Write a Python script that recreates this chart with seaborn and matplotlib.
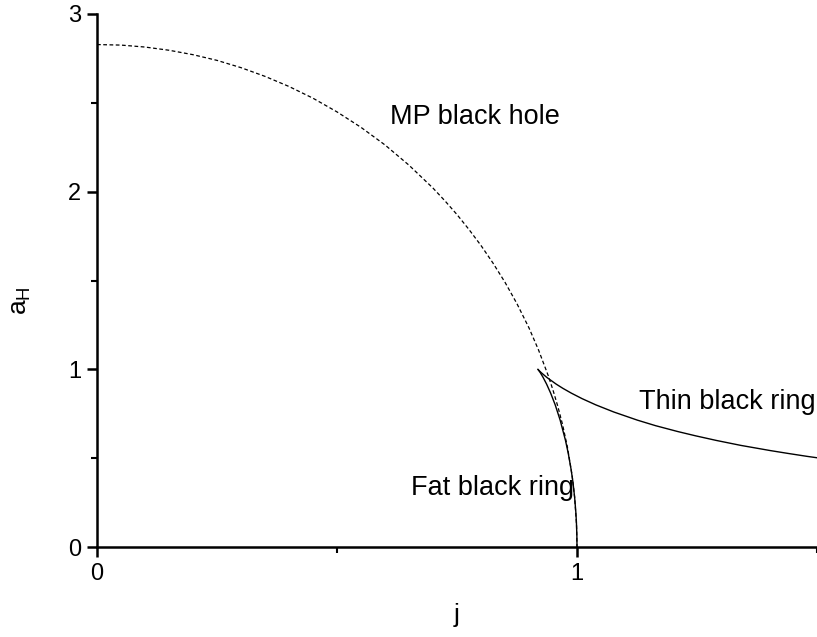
import matplotlib
matplotlib.use("Agg")
import matplotlib.pyplot as plt
import seaborn as sns
import pandas as pd
from matplotlib.ticker import MultipleLocator

# MP black hole (dashed)
mp_j = [0.0, 0.05, 0.1, 0.15, 0.2, 0.25, 0.3, 0.35, 0.4, 0.45, 0.5, 0.55, 0.6, 0.65, 0.7,
        0.725, 0.75, 0.775, 0.8, 0.825, 0.85, 0.875, 0.9, 0.92, 0.94, 0.95, 0.96, 0.97,
        0.98, 0.99, 0.995, 0.999, 1.0]
mp_a = [2.828, 2.825, 2.814, 2.796, 2.771, 2.739, 2.698, 2.649, 2.592, 2.526, 2.449, 2.362,
        2.263, 2.149, 2.020, 1.948, 1.871, 1.787, 1.697, 1.598, 1.490, 1.369, 1.233, 1.108,
        0.965, 0.883, 0.792, 0.688, 0.563, 0.399, 0.282, 0.127, 0.0]

# thin black ring
thin_j = [0.9186, 0.9202, 0.926, 0.9374, 0.9568, 0.9706, 0.9882, 1.0106, 1.0392, 1.0765,
          1.1258, 1.1635, 1.2097, 1.2467, 1.2899, 1.3411, 1.403, 1.4389, 1.479, 1.5241]
thin_a = [1.0, 0.995, 0.980, 0.954, 0.9165, 0.893, 0.866, 0.835, 0.80, 0.760,
          0.714, 0.683, 0.650, 0.626, 0.60, 0.572, 0.5426, 0.527, 0.5103, 0.4931]

# fat black ring
fat_j = [0.9186, 0.9200, 0.9238, 0.9295, 0.9367, 0.9451, 0.9546, 0.9649, 0.976, 0.9818,
         0.98775, 0.9914, 0.99505, 0.9975, 0.99875, 0.99975, 1.0]
fat_a = [1.0, 0.995, 0.980, 0.954, 0.9165, 0.866, 0.80, 0.714, 0.60, 0.527,
         0.4359, 0.3676, 0.28, 0.199, 0.1411, 0.0632, 0.0]

sns.set_style("ticks")
plt.rcParams['font.family'] = ['Liberation Sans', 'DejaVu Sans']
plt.rcParams['text.color'] = 'black'
plt.rcParams['axes.labelcolor'] = 'black'
plt.rcParams['xtick.color'] = 'black'
plt.rcParams['ytick.color'] = 'black'
plt.rcParams['axes.edgecolor'] = 'black'

fig = plt.figure(figsize=(8.17, 6.37), dpi=100)
ax = fig.add_axes([97 / 817, 90 / 637, 720 / 817, 533 / 637])

sns.lineplot(data=pd.DataFrame({'j': mp_j, 'a': mp_a}), x='j', y='a', ax=ax,
             color='black', lw=0.9, linestyle=(0, (3, 2)), sort=False)
sns.lineplot(data=pd.DataFrame({'j': thin_j, 'a': thin_a}), x='j', y='a', ax=ax,
             color='black', lw=1.0, sort=False)
sns.lineplot(data=pd.DataFrame({'j': fat_j, 'a': fat_a}), x='j', y='a', ax=ax,
             color='black', lw=1.0, sort=False)

ax.set_xlim(0, 1.5)
ax.set_ylim(0, 3)
ax.xaxis.set_major_locator(MultipleLocator(1))
ax.xaxis.set_minor_locator(MultipleLocator(0.5))
ax.yaxis.set_major_locator(MultipleLocator(1))
ax.yaxis.set_minor_locator(MultipleLocator(0.5))
ax.tick_params(which='major', direction='out', length=7.5, width=1.8, labelsize=17, pad=4)
ax.tick_params(which='minor', direction='out', length=4, width=1.5)
for s in ['left', 'bottom']:
    ax.spines[s].set_linewidth(1.8)
ax.spines['top'].set_visible(False)
ax.spines['right'].set_visible(False)

ax.set_xlabel('j', fontsize=19)
ax.xaxis.set_label_coords(0.5, -0.105)
ax.set_ylabel(r'a$_\mathregular{H}$', fontsize=19, va='center')
ax.yaxis.set_label_coords(-0.106, 0.463)

ax.text(0.61, 2.42, 'MP black hole', fontsize=19.5, va='center')
ax.text(1.13, 0.815, 'Thin black ring', fontsize=19.5, va='center')
ax.text(0.655, 0.33, 'Fat black ring', fontsize=19.5, va='center')

fig.savefig('out.png', dpi=100)
